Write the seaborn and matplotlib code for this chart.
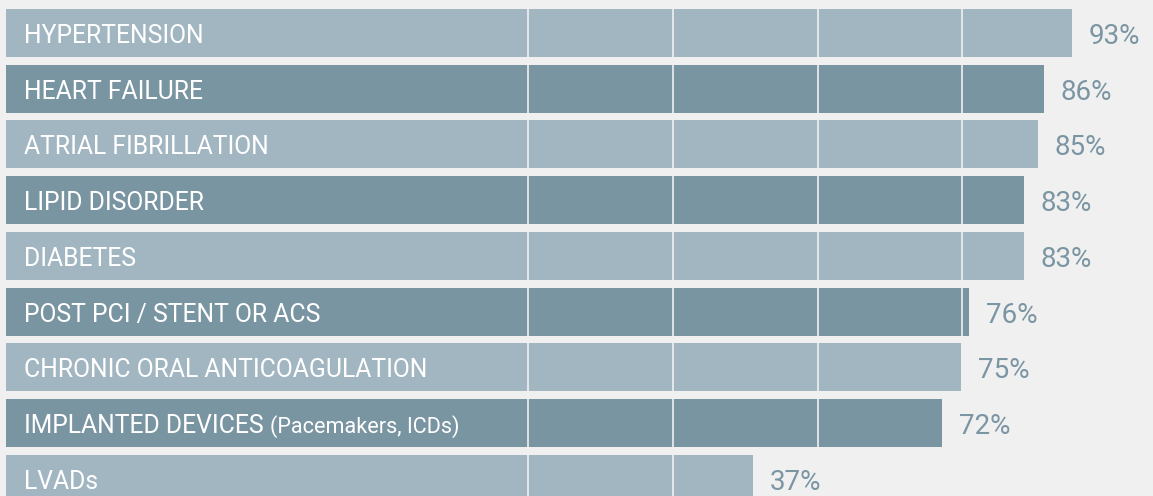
import matplotlib
matplotlib.use("Agg")
import matplotlib.pyplot as plt
import seaborn as sns

# conditions, top to bottom
conditions = [
    "HYPERTENSION",
    "HEART FAILURE",
    "ATRIAL FIBRILLATION",
    "LIPID DISORDER",
    "DIABETES",
    "POST PCI / STENT OR ACS",
    "CHRONIC ORAL ANTICOAGULATION",
    "IMPLANTED DEVICES",
    "LVADs",
]
notes = ["", "", "", "", "", "", "", "(Pacemakers, ICDs)", ""]
pct_labels = [93, 86, 85, 83, 83, 76, 75, 72, 37]
# bar ends as drawn in the picture (same % scale as the gridlines)
bar_len = [94.0, 89.2, 88.1, 85.7, 85.7, 76.2, 74.8, 71.5, 38.8]
grid_ticks = [0, 25, 50, 75, 100]

BG = "#f0f0f0"
LIGHT = "#a2b6c2"
DARK = "#7a95a2"
TXT = "#7b95a3"
LABEL_AREA = -90.3  # bars extend left of zero to hold the labels

sns.set_theme(style="white")
plt.rcParams["font.family"] = ["Roboto", "DejaVu Sans"]

fig = plt.figure(figsize=(11.53, 4.96), dpi=100, facecolor=BG)
ax = fig.add_axes([0, 0, 1, 1])
ax.set_facecolor(BG)

palette = {c: (LIGHT if i % 2 == 0 else DARK) for i, c in enumerate(conditions)}
sns.barplot(x=bar_len, y=conditions, hue=conditions, palette=palette,
            orient="h", width=0.862, legend=False, saturation=1, ax=ax,
            linewidth=0, zorder=2)

# stretch every bar back into the label area
for p in ax.patches:
    right = p.get_x() + p.get_width()
    p.set_x(LABEL_AREA)
    p.set_width(right - LABEL_AREA)
    p.set_edgecolor("none")

# gridlines show only as thin gaps cut through the bars
for g in grid_ticks:
    ax.axvline(g, color=BG, lw=1.4, alpha=0.85, zorder=3)

for i, (name, note, pct, L) in enumerate(zip(conditions, notes, pct_labels, bar_len)):
    t = ax.annotate(name, xy=(LABEL_AREA, i), xytext=(12.6, -7.2),
                    textcoords="offset points", va="baseline", ha="left",
                    color="white", fontsize=17.8, zorder=4)
    if note:
        ax.annotate(note, xy=(1, i), xycoords=(t, "data"), xytext=(5, -7.2),
                    textcoords="offset points", va="baseline", ha="left",
                    color="white", fontsize=15.6, zorder=4)
    ax.annotate(f"{pct}%", xy=(L, i), xytext=(12, -7.9),
                textcoords="offset points", va="baseline", ha="left",
                color=TXT, fontsize=20.0, zorder=4)

ax.set_xlim(-91.34, 108.0)
ax.set_ylim(8.311, -0.592)
ax.set_xlabel("")
ax.set_ylabel("")
ax.set_xticks([])
ax.set_yticks([])
sns.despine(ax=ax, left=True, bottom=True)

fig.savefig("out.png", dpi=100, facecolor=BG)
